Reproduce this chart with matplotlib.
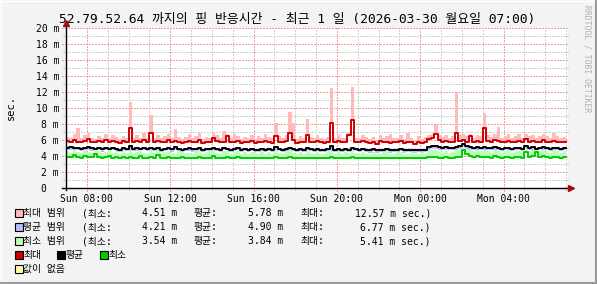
import matplotlib
matplotlib.use("Agg")
import matplotlib.pyplot as plt
from matplotlib.patches import Rectangle
from matplotlib.lines import Line2D
import numpy as np

# ---------------- data (ms), 10-minute samples from Sun 07:00 to Mon 07:00 ----------------
max_line = [5.9,5.8,6.0,5.8,5.7,5.9,6.1,5.8,5.7,5.9,5.8,6.0,
            5.7,5.9,5.8,5.6,5.9,5.8,7.5,5.7,5.9,5.8,6.0,5.7,
            6.9,5.8,5.9,5.7,5.8,6.0,5.7,5.9,5.8,5.6,5.8,5.9,
            5.7,5.8,6.0,5.6,5.8,5.7,6.2,5.9,5.7,5.8,6.5,5.7,
            5.8,5.9,5.6,5.8,5.7,5.9,5.6,5.8,5.7,5.9,5.8,5.6,
            6.5,5.8,5.7,5.9,6.9,6.0,5.6,5.8,5.7,6.6,5.8,5.7,
            5.9,5.8,5.6,5.8,8.1,5.7,5.9,5.8,5.7,6.6,8.5,5.8,
            5.7,5.9,5.8,5.6,5.8,5.5,5.9,5.7,5.8,5.6,5.8,5.7,
            5.9,5.6,5.8,5.7,5.5,5.8,5.6,5.7,6.1,6.2,6.7,6.0,
            5.8,5.9,5.7,5.8,6.9,5.9,6.0,5.8,6.5,5.7,5.9,5.8,
            7.5,5.9,5.8,6.0,5.9,5.7,5.8,5.9,5.7,5.8,5.9,5.7,
            6.1,5.8,5.9,5.7,5.8,6.0,5.8,5.7,5.9,5.8,5.7,5.8]
max_hi = [6.4,6.2,6.7,7.5,6.2,6.6,6.9,6.3,6.1,6.5,6.3,6.8,
          6.2,6.6,6.4,6.1,6.5,6.3,10.75,6.2,6.6,6.3,6.9,6.2,
          9.1,6.3,6.6,6.2,6.5,6.8,6.3,7.4,6.4,6.1,6.4,6.7,
          6.2,6.5,6.9,6.1,6.4,6.2,6.9,6.6,6.2,7.1,6.8,6.2,
          6.7,6.5,6.1,6.4,6.2,6.6,6.1,6.5,6.2,6.7,6.4,6.2,
          8.1,6.5,6.2,6.6,9.5,8.1,6.1,6.5,6.2,8.6,6.4,6.2,
          6.6,6.3,6.1,6.4,12.5,6.2,6.6,6.3,6.2,6.9,12.57,6.3,
          6.2,6.6,6.4,6.1,6.4,6.0,6.6,6.2,6.5,6.7,6.3,6.2,
          6.6,6.1,6.9,6.3,6.0,6.5,6.1,6.4,6.6,6.8,7.9,6.6,
          6.4,6.6,6.3,6.5,11.9,6.6,6.7,6.5,6.8,6.3,6.6,6.5,
          9.4,6.6,6.4,6.8,7.6,6.3,6.5,6.7,6.3,6.5,6.7,6.3,
          6.7,6.5,6.6,6.3,6.5,6.8,6.5,6.3,6.9,6.5,6.3,6.4]
avg_line = [5.0,5.1,5.0,5.0,4.9,5.0,5.1,5.0,4.9,5.0,4.9,5.0,
            4.9,5.0,4.9,4.8,5.0,4.9,5.2,4.9,5.0,4.9,5.0,4.9,
            5.0,4.9,5.0,4.8,4.9,5.0,4.9,5.1,4.9,4.8,4.9,5.0,
            4.9,4.9,5.0,4.8,4.9,4.9,5.0,4.9,4.8,5.0,4.9,4.8,
            4.9,5.0,4.8,4.9,4.8,4.9,4.8,4.8,4.9,4.8,4.9,4.8,
            5.1,4.9,4.8,4.9,5.0,4.9,4.8,4.9,4.8,5.0,4.9,4.8,
            4.9,4.8,4.8,4.9,5.2,4.8,4.9,4.8,4.9,4.8,5.0,4.9,
            4.8,4.9,4.8,4.7,4.9,4.7,4.8,4.8,4.9,4.7,4.8,4.8,
            4.9,4.7,4.8,4.8,4.7,4.8,4.7,4.8,5.1,5.3,5.2,5.1,
            5.0,5.1,5.0,5.0,5.1,5.2,5.5,5.2,5.1,5.0,5.1,5.0,
            5.1,5.0,5.0,5.1,5.0,4.9,5.0,5.0,4.9,5.0,5.0,4.9,
            5.3,5.0,5.1,4.9,5.0,5.1,5.0,4.9,5.0,5.0,4.9,5.0]
avg_lo = [4.7,4.8,4.6,4.7,4.6,4.7,4.8,4.6,4.6,4.7,4.5,4.7,
          4.6,4.7,4.6,4.5,4.7,4.6,4.8,4.6,4.6,4.5,4.7,4.6,
          4.7,4.6,4.6,4.5,4.6,4.7,4.5,4.8,4.6,4.5,4.6,4.6,
          4.5,4.6,4.7,4.5,4.6,4.5,4.7,4.6,4.5,4.7,4.6,4.5,
          4.6,4.7,4.5,4.6,4.5,4.6,4.5,4.5,4.6,4.5,4.6,4.5,
          4.8,4.6,4.5,4.6,4.7,4.6,4.5,4.6,4.5,4.7,4.6,4.5,
          4.6,4.5,4.5,4.6,4.8,4.5,4.6,4.5,4.6,4.5,4.7,4.6,
          4.5,4.6,4.5,4.4,4.6,4.4,4.5,4.5,4.6,4.4,4.5,4.5,
          4.6,4.4,4.5,4.5,4.4,4.5,4.4,4.5,4.8,5.0,4.9,4.8,
          4.7,4.8,4.7,4.7,4.8,4.9,5.1,4.9,4.8,4.7,4.8,4.7,
          4.8,4.7,4.7,4.8,4.7,4.6,4.7,4.7,4.6,4.7,4.7,4.6,
          5.0,4.7,4.8,4.6,4.7,4.8,4.7,4.6,4.7,4.7,4.6,4.7]
min_line = [3.9,3.9,4.1,3.9,3.8,4.0,3.9,3.9,4.2,3.9,3.8,3.9,
            4.0,3.8,3.9,3.7,3.9,3.8,3.9,3.7,3.8,4.0,3.8,3.7,
            3.9,3.8,4.1,3.8,3.8,3.9,3.8,3.7,3.8,3.9,3.8,3.8,
            3.7,3.8,3.9,3.7,3.8,3.8,4.0,3.8,3.7,3.8,3.9,3.7,
            3.8,3.9,3.7,3.8,3.7,3.8,3.8,3.7,3.8,3.7,3.8,3.7,
            3.9,3.8,3.7,3.8,3.9,3.8,3.7,3.8,3.7,3.8,3.8,3.7,
            3.8,3.7,3.7,3.8,3.9,3.7,3.8,3.7,3.8,3.8,3.9,3.8,
            3.7,3.8,3.7,3.7,3.8,3.7,3.7,3.8,3.8,3.7,3.7,3.8,
            3.8,3.7,3.7,3.8,3.7,3.7,3.8,3.7,3.9,3.9,3.9,3.8,
            3.8,3.9,3.8,3.8,3.9,3.9,4.7,4.2,4.0,3.9,4.0,3.9,
            3.9,3.9,3.8,4.0,3.9,3.8,3.9,3.9,3.8,3.9,3.9,3.8,
            4.5,3.9,4.0,4.5,3.9,4.0,3.9,3.8,3.9,3.9,3.8,3.9]
min_hi = [4.6,4.4,4.8,4.5,4.4,4.7,4.5,4.4,4.8,4.6,4.4,4.5,
          4.7,4.4,4.6,4.3,4.6,4.4,4.7,4.3,4.5,4.7,4.4,4.3,
          4.7,4.4,4.8,4.4,4.5,4.6,4.4,4.3,4.6,4.5,4.4,4.4,
          4.3,4.6,4.7,4.3,4.5,4.6,4.8,4.4,4.3,4.6,4.7,4.3,
          4.5,4.6,4.3,4.5,4.3,4.5,4.4,4.3,4.6,4.3,4.5,4.3,
          4.7,4.4,4.3,4.6,4.8,4.4,4.3,4.5,4.3,4.6,4.4,4.3,
          4.5,4.3,4.3,4.6,4.8,4.3,4.6,4.3,4.5,4.4,4.7,4.4,
          4.3,4.5,4.3,4.3,4.5,4.3,4.3,4.5,4.6,4.3,4.3,4.5,
          4.5,4.3,4.3,4.5,4.3,4.3,4.5,4.3,4.7,4.8,4.7,4.5,
          4.4,4.6,4.4,4.5,4.7,4.7,5.0,4.9,4.7,4.6,4.8,4.6,
          4.7,4.6,4.4,4.8,4.6,4.4,4.6,4.7,4.4,4.6,4.6,4.4,
          4.9,4.6,4.8,4.9,4.6,4.8,4.6,4.4,4.7,4.6,4.4,4.6]

x_tick_hours = [1, 5, 9, 13, 17, 21]
x_tick_labels = ["Sun 08:00", "Sun 12:00", "Sun 16:00", "Sun 20:00", "Mon 00:00", "Mon 04:00"]
y_ticks = [0, 2, 4, 6, 8, 10, 12, 14, 16, 18, 20]
y_tick_labels = ["0  ", "2 m", "4 m", "6 m", "8 m", "10 m", "12 m", "14 m", "16 m", "18 m", "20 m"]

title = "52.79.52.64 까지의 핑 반응시간 - 최근 1 일 (2026-03-30 월요일 07:00)"
legend_rows = [
    ("최대 범위", "#FFBBBB", "4.51", "5.78", "12.57"),
    ("평균 범위", "#BBBBFF", "4.21", "4.90", "6.77"),
    ("최소 범위", "#BBFFBB", "3.54", "3.84", "5.41"),
]
line_legend = [("최대", "#CC0000"), ("평균", "#000000"), ("최소", "#00CC00")]
nodata_label = ("값이 없음", "#FFFFAA")

# ---------------- figure ----------------
W, H = 597, 284
fig = plt.figure(figsize=(W / 100, H / 100), dpi=100)
fig.patch.set_facecolor("#F3F3F3")
MONO = ["DejaVu Sans Mono", "Noto Sans CJK KR"]

def fx(px):
    return px / W

def fy(py):
    return 1 - py / H

L, R, T, B = 66, 568, 28, 188
ax = fig.add_axes([fx(L), fy(B), fx(R) - fx(L), fy(T) - fy(B)])
ax.set_facecolor("white")
xmax = 24 * (R - L) / 500.0
ax.set_xlim(0, xmax)
ax.set_ylim(0, 20)
for s in ax.spines.values():
    s.set_visible(False)

# grid (dotted, 1px on / 1px off)
minor_c = "#D0D0D0"
major_c = "#F5A0A0"
dash = (0, (1, 1))
gkw = dict(lw=1.0, ls=dash, clip_on=False, antialiased=False)
for h in range(0, 25):
    if h in x_tick_hours:
        continue
    ax.plot([h, h], [-0.012, 1], transform=ax.get_xaxis_transform(), color=minor_c,
            zorder=1, **gkw)
for h in x_tick_hours:
    ax.plot([h, h], [-0.02, 1], transform=ax.get_xaxis_transform(), color=major_c,
            zorder=1.1, **gkw)
for v in range(1, 21, 2):
    ax.plot([-0.006, 1], [v, v], transform=ax.get_yaxis_transform(), color=minor_c,
            zorder=1, **gkw)
for v in y_ticks[1:]:
    ax.plot([-0.008, 1], [v, v], transform=ax.get_yaxis_transform(), color=major_c,
            zorder=1.1, **gkw)

# data
n = len(max_line)
t = np.arange(n + 1) * (24.0 / n)
def ext(a):
    return list(a) + [a[-1]]

ax.fill_between(t, ext(max_line), ext(max_hi), step="post", color="#FFBBBB", lw=0, zorder=2)
ax.fill_between(t, ext(avg_lo), ext(avg_line), step="post", color="#BBBBFF", lw=0, zorder=2)
ax.fill_between(t, ext(min_line), ext(min_hi), step="post", color="#BBFFBB", lw=0, zorder=2)
ax.step(t, ext(max_line), where="post", color="#CC0000", lw=1.4, zorder=3)
ax.step(t, ext(avg_line), where="post", color="#000000", lw=1.4, zorder=3)
ax.step(t, ext(min_line), where="post", color="#00CC00", lw=1.4, zorder=3)

# axes lines with arrows
ax.plot([0, 0], [-0.01, 1.01], transform=ax.transAxes, color="#000000", lw=1.0,
        clip_on=False, zorder=4)
ax.plot([-0.008, 1.0], [0, 0], transform=ax.transAxes, color="#000000", lw=1.0,
        clip_on=False, zorder=4)
ax.plot([0], [1.03], marker="^", ms=4.5, color="#A01010", transform=ax.transAxes,
        clip_on=False, zorder=5)
ax.plot([1.006], [0], marker=">", ms=4.5, color="#A01010", transform=ax.transAxes,
        clip_on=False, zorder=5)

# ticks
ax.tick_params(length=0)
ax.set_xticks(x_tick_hours)
ax.set_xticklabels(x_tick_labels, fontsize=7, family=MONO, color="#000000")
ax.set_yticks(y_ticks)
ax.set_yticklabels(y_tick_labels, fontsize=7, family=MONO, color="#000000")
ax.tick_params(axis="x", pad=4)
ax.tick_params(axis="y", pad=5)

# title and side texts
fig.text(fx(297), fy(19), title, ha="center", va="center", fontsize=9.3, family=MONO)
fig.text(fx(11), fy(107), "sec.", rotation=90, ha="center", va="center", fontsize=7.5, family=MONO)
fig.text(fx(587), fy(5), "RRDTOOL / TOBI OETIKER", rotation=270, ha="center", va="top",
         fontsize=5.8, family=MONO, color="#B0B0B0")

# legend
def box(px, py, color):
    fig.patches.append(Rectangle((fx(px), fy(py + 8)), 8 / W, 8 / H, facecolor=color,
                                 edgecolor="#000000", lw=0.8, transform=fig.transFigure))

row_y = [213, 227, 241]
for (name, col, mn, av, mx), yy in zip(legend_rows, row_y):
    box(15, yy - 4, col)
    fig.text(fx(23), fy(yy), name, ha="left", va="center", fontsize=7, family=MONO)
    fig.text(fx(82), fy(yy), "(최소:", ha="left", va="center", fontsize=7, family=MONO)
    fig.text(fx(177), fy(yy), mn + " m", ha="right", va="center", fontsize=7, family=MONO)
    fig.text(fx(194), fy(yy), "평균:", ha="left", va="center", fontsize=7, family=MONO)
    fig.text(fx(283), fy(yy), av + " m", ha="right", va="center", fontsize=7, family=MONO)
    fig.text(fx(300), fy(yy), "최대:", ha="left", va="center", fontsize=7, family=MONO)
    fig.text(fx(431), fy(yy), mx + " m sec.)", ha="right", va="center", fontsize=7, family=MONO)

lx = [15, 57, 100]
for (name, col), xx in zip(line_legend, lx):
    box(xx, 255 - 4, col)
    fig.text(fx(xx + 8), fy(255), name, ha="left", va="center", fontsize=7, family=MONO)

box(15, 269 - 4, nodata_label[1])
fig.text(fx(23), fy(269), nodata_label[0], ha="left", va="center", fontsize=7, family=MONO)

# frame (3D border)
fig.add_artist(Line2D([0, 1], [1 - 0.5 / H, 1 - 0.5 / H], color="#FFFFFF", lw=1.0, transform=fig.transFigure))
fig.add_artist(Line2D([0.5 / W, 0.5 / W], [0, 1], color="#FFFFFF", lw=1.0, transform=fig.transFigure))
fig.add_artist(Line2D([1 - 1.5 / W, 1 - 1.5 / W], [0, 1], color="#9A9A9A", lw=2.2, transform=fig.transFigure))
fig.add_artist(Line2D([0, 1], [1.5 / H, 1.5 / H], color="#9A9A9A", lw=2.2, transform=fig.transFigure))

fig.savefig("out.png", dpi=100, facecolor=fig.get_facecolor())
